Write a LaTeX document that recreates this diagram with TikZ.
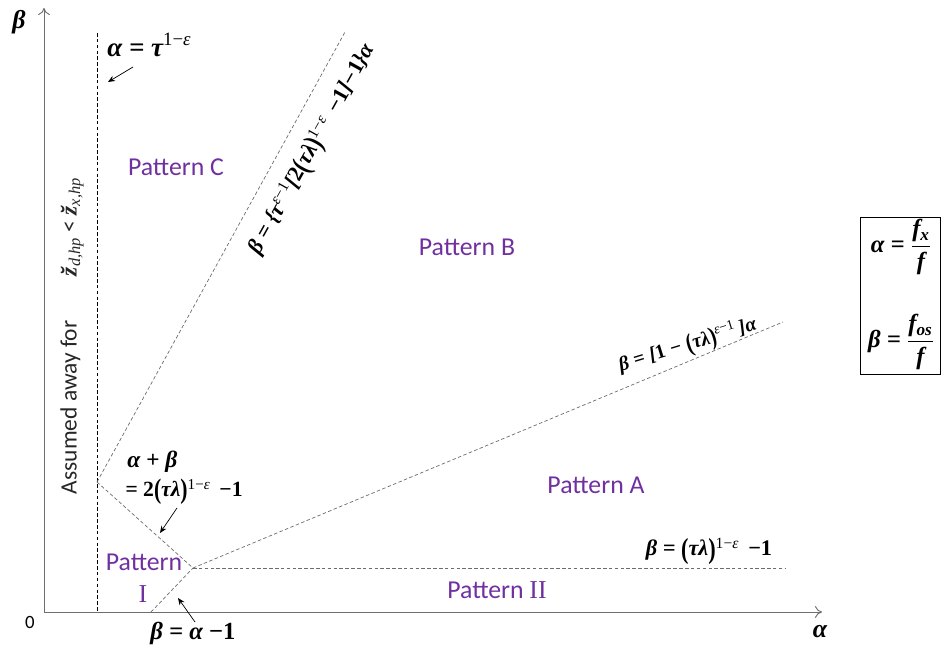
\documentclass[tikz,border=0pt]{standalone}
\usepackage{amsmath,graphicx}
\usepackage{fontspec}
\newfontfamily\patfont{Carlito}
\newfontfamily\tnr{Liberation Serif}
\usetikzlibrary{arrows.meta}
\definecolor{patpurple}{RGB}{112,48,160}
\definecolor{axisgray}{RGB}{110,110,110}
\newcommand\fm[1]{{\tnr\bfseries\itshape #1}}
\newcommand\sps[1]{\textsuperscript{\mdseries #1}}
\newcommand\up[1]{{\upshape #1}}
\newcommand\lpar{\raisebox{-0.12em}{\scalebox{1}[1.3]{\upshape(}}}
\newcommand\rpar{\raisebox{-0.12em}{\scalebox{1}[1.3]{\upshape)}}}
\newcommand\fsz[1]{\fontsize{#1}{#1}\selectfont}
\begin{document}
\begin{tikzpicture}[x=0.03cm,y=-0.03cm,
  axisline/.style={draw=axisgray, line width=0.8pt, -{To[length=6pt,width=10pt]}},
  dline/.style={draw=gray!85!black, dash pattern=on 3pt off 2pt, line width=0.6pt},
  vdline/.style={draw=black, dash pattern=on 3pt off 2pt, line width=0.6pt},
  ptr/.style={-{Stealth[length=6pt,width=5pt]}, line width=0.6pt},
  pat/.style={text=patpurple, font=\patfont\fsz{22}, inner sep=1pt},
  eq/.style={font=\tnr\bfseries\itshape\fsz{17}, inner sep=1pt},
  bigeq/.style={font=\tnr\bfseries\itshape\fsz{22}, inner sep=1pt}]
\useasboundingbox (0,0) rectangle (943,649);
% axes
\coordinate (O) at (44,612);
\coordinate (ytop) at (44,8);
\coordinate (xend) at (822,612);
\draw[axisline] (O) -- (ytop);
\draw[axisline] (O) -- (xend);
\node[bigeq] (blab) at (19,22) {β};
\node[bigeq] (alab) at (820,632) {α};
\node[font=\patfont\fsz{16}] (zero) at (30,622) {0};
% key points
\coordinate (vtop) at (97,33);
\coordinate (vbot) at (97,612);
\coordinate (P) at (97,482);
\coordinate (K) at (193,568);
\coordinate (ray1) at (345,32);
\coordinate (ray2) at (783,322);
\coordinate (hend) at (785,568);
\coordinate (xa) at (151,612);
% lines
\draw[vdline] (vtop) -- (vbot);
\draw[dline] (P) -- (ray1);
\draw[dline] (P) -- (K);
\draw[dline] (K) -- (ray2);
\draw[dline] (K) -- (hend);
\draw[dline] (xa) -- (K);
% labels of lines
\node[eq, font=\tnr\bfseries\itshape\fsz{23}, anchor=west] (e1) at (106,45) {α = τ\sps{\up{1−}ε}};
\coordinate (a1s) at (133,67); \coordinate (a1e) at (108,82);
\draw[ptr] (a1s) -- (a1e);
\node[eq, rotate=60.8, font=\tnr\bfseries\itshape\fsz{19}] (e2) at (313,150) {β = \{τ\sps{ε\up{−1}}[\up{2}\lpar τλ\rpar\sps{\up{1−}ε} \,\up{−1}]\up{−1}\}α};
\node[eq, rotate=17] (e3) at (688,346) {β = [\up{1} − \lpar τλ\rpar\sps{ε\up{−1}}\,]α};
\node[eq, font=\tnr\bfseries\itshape\fsz{19}] (e4) at (709,551) {β = \lpar τλ\rpar\sps{\up{1−}ε} \,\up{−1}};
\node[eq, font=\tnr\bfseries\itshape\fsz{20}, anchor=west] (e5a) at (126,462) {α + β};
\node[eq, font=\tnr\bfseries\itshape\fsz{18.5}, anchor=west] (e5b) at (124,492) {= \up{2}\lpar τλ\rpar\sps{\up{1−}ε} \,\up{−1}};
\coordinate (a2s) at (177,508); \coordinate (a2e) at (160,533);
\draw[ptr] (a2s) -- (a2e);
\node[eq, font=\tnr\bfseries\itshape\fsz{21}] (e6) at (193,633) {β = α \up{−1}};
\coordinate (a3s) at (195,622); \coordinate (a3e) at (178,598);
\draw[ptr] (a3s) -- (a3e);
% patterns
\node[pat] (pc) at (176,167) {Pattern C};
\node[pat] (pb) at (467,247) {Pattern B};
\node[pat] (pa) at (596,485) {Pattern A};
\node[pat] (p2) at (497,590) {Pattern {\tnr II}};
\node[pat] (p1a) at (144,562) {Pattern};
\node[pat] (p1b) at (143,594) {\tnr I};
% assumed away
\node[rotate=90, font=\patfont\fsz{20}, text=black!85, inner sep=1pt] (assume) at (72,336)
  {Assumed away for\hspace{1.9em}{\tnr\itshape\bfseries \u{z}}\textsubscript{\tnr\itshape d,hp} < {\tnr\itshape\bfseries \u{z}}\textsubscript{\tnr\itshape x,hp}};
% definition box
\node[draw=black, line width=0.6pt, minimum width=80*0.03cm, minimum height=157*0.03cm, inner sep=0pt] (box) at (900,296) {};
\node[eq, font=\tnr\bfseries\itshape\fsz{21}] (d1) at (901,247) {α = $\dfrac{\text{\fm{f}\textsubscript{\fm{x}}}}{\text{\fm{f}}}$};
\node[eq, font=\tnr\bfseries\itshape\fsz{21}] (d2) at (901,342) {β = $\dfrac{\text{\fm{f}\textsubscript{\fm{os}}}}{\text{\fm{f}}}$};
\end{tikzpicture}
\end{document}
